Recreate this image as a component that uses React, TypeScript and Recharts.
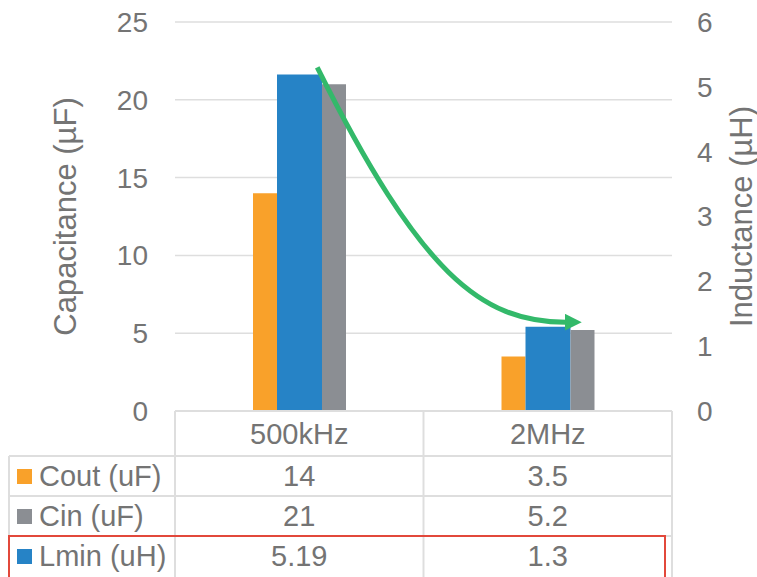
import { ComposedChart, Bar, Line, XAxis, YAxis, CartesianGrid, Label } from "recharts";

const categories = ["500kHz", "2MHz"];
const coutUF = [14, 3.5];
const cinUF = [21, 5.2];
const lminUH = [5.19, 1.3];
// ends of the green trend arrow, on the inductance axis
const trendUH = [5.3, 1.37];

const capTicks = [0, 5, 10, 15, 20, 25];
const indTicks = [0, 1, 2, 3, 4, 5, 6];

const W = 757;
const H = 577;
const PLOT_L = 175;
const PLOT_R = 672;
const PLOT_T = 22;
const PLOT_B = 411;
const BAND = (PLOT_R - PLOT_L) / categories.length;

const ORANGE = "#F9A12A";
const BLUE = "#2683C6";
const GRAY = "#8B8E93";
const GREEN = "#33B96A";
const RED = "#E2483B";
const GRID = "#DEDEDE";
const TEXT = "#747474";
const FONT = "'Liberation Sans', Arial, sans-serif";

const rows = [
  { name: "Cout (uF)", color: ORANGE, values: coutUF },
  { name: "Cin (uF)", color: GRAY, values: cinUF },
  { name: "Lmin (uH)", color: BLUE, values: lminUH },
];
const HEAD_H = 45;
const ROW_H = 40;

const data = categories.map((freq, i) => ({
  freq,
  cout: coutUF[i],
  cin: cinUF[i],
  lmin: lminUH[i],
  trend: trendUH[i],
}));

// d3 curve: one smooth bend from the first point to the last, nudged right of the bar centres
function arrowCurve(context: any) {
  let pts: number[][] = [];
  const shift = 18;
  return {
    areaStart() {},
    areaEnd() {},
    lineStart() {
      pts = [];
    },
    point(x: number, y: number) {
      pts.push([x, y]);
    },
    lineEnd() {
      if (pts.length < 2) return;
      const a = pts[0];
      const b = pts[pts.length - 1];
      const x0 = a[0] + shift;
      const y0 = a[1];
      const x3 = b[0] + shift;
      const y3 = b[1];
      const dx = x3 - x0;
      const dy = y3 - y0;
      context.moveTo(x0, y0);
      context.bezierCurveTo(x0 + 0.415 * dx, y0 + 0.81 * dy, x3 - 0.34 * dx, y3, x3, y3);
    },
  };
}

// each x tick draws its whole column of the data table
function TableColumn(props: any) {
  const { x, y, payload, index } = props;
  const left = x - BAND / 2;
  const right = x + BAND / 2;
  const last = index === categories.length - 1;
  const line = { stroke: GRID, strokeWidth: 2 };
  const txt = { fontFamily: FONT, fontSize: 29, fill: TEXT };

  return (
    <g>
      {index === 0 && (
        <g>
          {rows.map((r, i) => (
            <line key={"h" + i} x1={9} x2={PLOT_R} y1={y + HEAD_H + i * ROW_H} y2={y + HEAD_H + i * ROW_H} {...line} />
          ))}
          <line x1={9} x2={9} y1={y + HEAD_H} y2={H} {...line} />
          {rows.map((r, i) => {
            const cy = y + HEAD_H + i * ROW_H + ROW_H / 2;
            return (
              <g key={"k" + i}>
                <rect x={17} y={cy - 7} width={15} height={15} fill={r.color} />
                <text x={39} y={cy + 10} {...txt}>
                  {r.name}
                </text>
              </g>
            );
          })}
        </g>
      )}
      <line x1={left} x2={left} y1={y} y2={H} {...line} />
      {last && <line x1={right} x2={right} y1={y} y2={H} {...line} />}
      <text x={x} y={y + HEAD_H / 2 + 10} textAnchor="middle" {...txt}>
        {payload.value}
      </text>
      {rows.map((r, i) => (
        <text key={"v" + i} x={x} y={y + HEAD_H + i * ROW_H + ROW_H / 2 + 10} textAnchor="middle" {...txt}>
          {r.values[index]}
        </text>
      ))}
      {last && (
        <rect
          x={9}
          y={y + HEAD_H + 2 * ROW_H}
          width={right - 7 - 9}
          height={60}
          fill="none"
          stroke={RED}
          strokeWidth={2}
        />
      )}
    </g>
  );
}

function AxisTitle({ viewBox, value, dx }: any) {
  const cx = viewBox.x + dx;
  const cy = (PLOT_T + PLOT_B) / 2;
  return (
    <text
      x={cx}
      y={cy}
      transform={`rotate(-90 ${cx} ${cy})`}
      textAnchor="middle"
      dominantBaseline="central"
      fontFamily={FONT}
      fontSize={31}
      fill={TEXT}
    >
      {value}
    </text>
  );
}

export default function App() {
  return (
    <div style={{ position: "fixed", left: 0, top: 0, width: W, height: H, background: "#fff" }}>
      <ComposedChart
        width={W}
        height={H}
        data={data}
        barGap={0}
        margin={{ top: PLOT_T, right: 0, bottom: 0, left: 0 }}
      >
        <defs>
          <marker
            id="trendHead"
            markerWidth={17}
            markerHeight={17}
            refX={1}
            refY={8.5}
            orient="auto"
            markerUnits="userSpaceOnUse"
          >
            <path d="M0,0 L17,8.5 L0,17 Z" fill={GREEN} />
          </marker>
        </defs>
        <CartesianGrid yAxisId="cap" vertical={false} stroke={GRID} strokeWidth={1.5} />
        <XAxis
          dataKey="freq"
          height={H - PLOT_B}
          interval={0}
          tickLine={false}
          tickSize={0}
          tickMargin={0}
          axisLine={{ stroke: GRID, strokeWidth: 2 }}
          tick={<TableColumn />}
        />
        <YAxis
          yAxisId="cap"
          width={PLOT_L}
          domain={[0, 25]}
          ticks={capTicks}
          axisLine={false}
          tickLine={false}
          tickMargin={21}
          tick={{ fontFamily: FONT, fontSize: 28, fill: TEXT }}
        >
          <Label content={<AxisTitle value="Capacitance (µF)" dx={65} />} />
        </YAxis>
        <YAxis
          yAxisId="ind"
          orientation="right"
          width={W - PLOT_R}
          domain={[0, 6]}
          ticks={indTicks}
          axisLine={false}
          tickLine={false}
          tickMargin={19}
          tick={{ fontFamily: FONT, fontSize: 28, fill: TEXT, textAnchor: "start" }}
        >
          <Label content={<AxisTitle value="Inductance (µH)" dx={69} />} />
        </YAxis>
        <Bar yAxisId="cap" dataKey="cout" name="Cout (uF)" fill={ORANGE} barSize={24} isAnimationActive={false} />
        <Bar yAxisId="ind" dataKey="lmin" name="Lmin (uH)" fill={BLUE} barSize={45} isAnimationActive={false} />
        <Bar yAxisId="cap" dataKey="cin" name="Cin (uF)" fill={GRAY} barSize={24} isAnimationActive={false} />
        <Line
          yAxisId="ind"
          dataKey="trend"
          type={arrowCurve}
          stroke={GREEN}
          strokeWidth={5}
          dot={false}
          activeDot={false}
          markerEnd="url(#trendHead)"
          isAnimationActive={false}
        />
      </ComposedChart>
    </div>
  );
}
